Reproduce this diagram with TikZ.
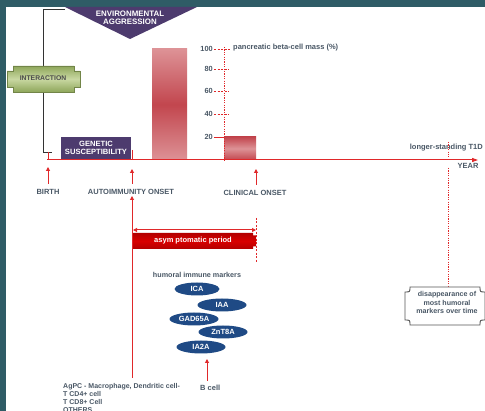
\documentclass[tikz,border=0pt]{standalone}
\usepackage{fontspec}
\setmainfont{Liberation Sans}
\usetikzlibrary{arrows.meta,shapes.geometric}
\definecolor{tealbg}{HTML}{2F5C66}
\definecolor{purp}{HTML}{4D3B6E}
\definecolor{redl}{HTML}{E0282A}
\definecolor{txtg}{HTML}{4A5866}
\definecolor{ellb}{HTML}{1F4A85}
\definecolor{barlight}{HTML}{DD9296}
\definecolor{bardark}{HTML}{C2464E}
\definecolor{grnl}{HTML}{C9D8A2}
\definecolor{grnd}{HTML}{8EA65A}
\definecolor{boxg}{HTML}{555555}
\begin{document}
\begin{tikzpicture}[x=1pt,y=-1pt,
  lbl/.style={font=\fontsize{7.5}{8.5}\selectfont\bfseries, text=txtg, inner sep=0pt},
  wlbl/.style={font=\fontsize{7.6}{8.5}\selectfont\bfseries, text=white, inner sep=0pt, align=center},
  tick/.style={font=\fontsize{7.4}{8}\selectfont\bfseries, text=txtg, inner sep=0pt, anchor=south east},
  upar/.style={redl, line width=1pt, -{Triangle[length=4pt,width=4pt]}},
  dots/.style={redl, line width=0.9pt, dash pattern=on 1.2pt off 1.2pt},
  dsh/.style={redl, line width=0.8pt, dash pattern=on 2pt off 1.5pt},
  ell/.style={ellipse, fill=ellb, minimum width=49pt, minimum height=13pt, inner sep=0pt, font=\fontsize{7.5}{8}\selectfont\bfseries, text=white}]
\useasboundingbox (0,0) rectangle (485,411);
\fill[tealbg] (0,0) rectangle (485,411);
\fill[white] (6,7) rectangle (485,411);

% black connector
\draw[black!80, line width=0.8pt] (65,9) -- (43,9) -- (43,152) -- (52,152);

% environmental aggression
\fill[purp] (65,7) -- (197,7) -- (130,39) -- cycle;
\node[wlbl, font=\fontsize{7.9}{8.8}\selectfont\bfseries] (env) at (130,17.5) {ENVIRONMENTAL\\[-0.5pt]AGGRESSION};

% interaction
\shade[top color=grnd, bottom color=grnd, middle color=grnl, draw=grnd!80!black, line width=0.4pt]
  (13,66) -- (74,66) -- (74,71) -- (80,71) -- (80,87) -- (74,87) -- (74,92) -- (13,92) -- (13,87) -- (7,87) -- (7,71) -- (13,71) -- cycle;
\node[lbl, text=black!70, font=\fontsize{6.8}{8}\selectfont\bfseries] (inter) at (43,78.5) {INTERACTION};

% genetic susceptibility
\fill[purp] (61,137) rectangle (131,159);
\node[wlbl] (gen) at (96,148) {GENETIC\\[-0.5pt]SUSCEPTIBILITY};

% bars
\shade[top color=barlight, bottom color=barlight, middle color=bardark] (152,49) rectangle (187,160);
\draw[black!70, line width=1pt] (152,160) -- (187,160);
\shade[top color=bardark, bottom color=bardark, middle color=barlight] (224,137) rectangle (256,160);
\draw[black!70, line width=1pt] (224,160) -- (256,160);

% axis
\draw[dots] (224,47) -- (224,160);
\node[tick] (t100) at (213,51.5) {100};
\node[tick] (t80) at (213,71.5) {80};
\node[tick] (t60) at (213,93.5) {60};
\node[tick] (t40) at (213,116.5) {40};
\node[tick] (t20) at (213,139.5) {20};
\draw[dsh] (t100.south east) ++(1,-2.5) -- (231,49);
\draw[dsh] (t80.south east) ++(1,-2.5) -- (229,69);
\draw[dsh] (t60.south east) ++(1,-2.5) -- (229,91);
\draw[dsh] (t40.south east) ++(1,-2.5) -- (229,114);
\draw[redl, line width=0.8pt] (t20.south east) ++(1,-2.5) -- (224,137);
\node[lbl, anchor=west] (pbc) at (233,48) {pancreatic beta-cell mass (\%)};

% timeline
\coordinate (tl0) at (47,160);
\coordinate (tl1) at (478,160);
\draw[redl, line width=1pt, -{Triangle[length=6pt,width=4pt]}] (tl0) -- (tl1);
\draw[redl, line width=0.9pt] (48,152) -- (48,160);
\draw[redl, line width=0.9pt] (132,150) -- (132,160);

% birth
\node[lbl] (birth) at (48,192) {BIRTH};
\coordinate (bA) at (48,184);
\coordinate (bT) at (48,167);
\draw[upar] (bA) -- (bT);
% autoimmunity
\node[lbl] (auto) at (131,192) {AUTOIMMUNITY ONSET};
\coordinate (aA) at (132,184);
\coordinate (aT) at (132,169);
\draw[upar] (aA) -- (aT);
% clinical
\node[lbl] (clin) at (255,193) {CLINICAL ONSET};
\coordinate (cA) at (256,185);
\coordinate (cT) at (256,169);
\draw[upar] (cA) -- (cT);

% longer standing
\node[lbl, anchor=east] (t1d) at (483,148) {longer-standing T1D};
\node[lbl] (year) at (468,166) {YEAR};
\draw[dots, line width=0.8pt] (448,142) -- (448,157);
\draw[dots, line width=0.8pt] (448,168) -- (448,287);

% disappearance box
\draw[boxg, line width=0.9pt, fill=white] (410,287) -- (480,287) .. controls (480,292) .. (485,292) -- (485,320) .. controls (480,320) .. (480,325) -- (410,325) .. controls (410,320) .. (405,320) -- (405,292) .. controls (410,292) .. (410,287) -- cycle;
\node[lbl, align=center, font=\fontsize{7.1}{8.8}\selectfont\bfseries] (disap) at (447,302.5) {disappearance of\\most humoral\\markers over time};

% long arrow up to autoimmunity onset
\coordinate (lA) at (132,378);
\coordinate (lT) at (132,196);
\draw[upar] (lA) -- (lT);

% asymptomatic period
\draw[dsh] (256,218) -- (256,263);
\coordinate (asL) at (133,230);
\coordinate (asR) at (256,230);
\draw[redl, line width=1pt, {Triangle[length=4pt,width=4pt]}-{Triangle[length=4pt,width=4pt]}] (asL) -- (asR);
\shade[top color=red!70!black, bottom color=red!70!black, middle color=red!85!black]
  (133,233) -- (253,233) -- (253,235.5) -- (256,235.5) -- (256,246.5) -- (253,246.5) -- (253,249) -- (133,249) -- cycle;
\node[wlbl, font=\fontsize{7.5}{8}\selectfont\bfseries] (asym) at (193,241) {asym ptomatic period};

% humoral markers
\node[lbl, font=\fontsize{7.2}{8}\selectfont\bfseries] (hum) at (197,275) {humoral immune markers};
\node[ell, minimum width=45pt] (ica) at (197,289) {ICA};
\node[ell] (iaa) at (222,305) {IAA};
\node[ell] (gad) at (194,319) {GAD65A};
\node[ell] (znt) at (223,332) {ZnT8A};
\node[ell] (ia2a) at (201,347) {IA2A};

% B cell
\node[lbl, anchor=west] (bcell) at (200,388) {B cell};
\coordinate (bcA) at (207,381);
\coordinate (bcT) at (207,359);
\draw[upar] (bcA) -- (bcT);

% bottom text
\node[lbl, anchor=north west, align=left, font=\fontsize{7}{8}\selectfont\bfseries] (agpc) at (63,383.5) {AgPC - Macrophage, Dendritic cell-\\T CD4+ cell\\T CD8+ Cell\\OTHERS};
\end{tikzpicture}
\end{document}
